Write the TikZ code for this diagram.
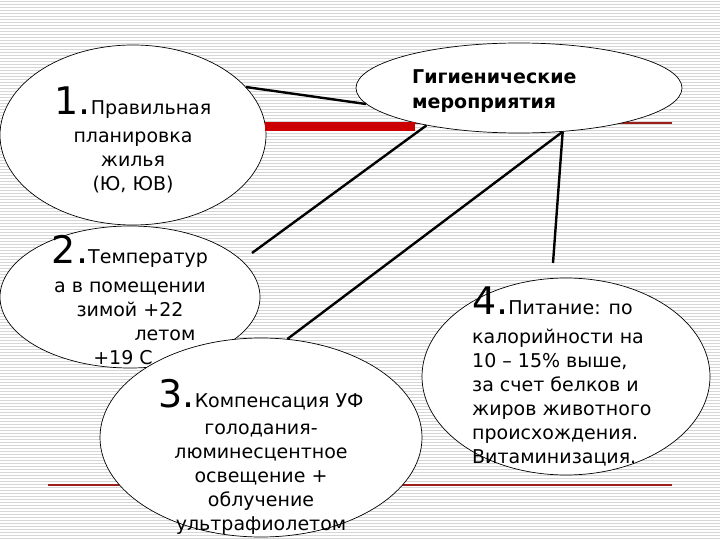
\documentclass[tikz,border=0pt]{standalone}
\usepackage{fontspec}
\setmainfont{DejaVu Sans}
\usetikzlibrary{shapes.geometric}
\definecolor{stripe}{RGB}{214,214,214}
\definecolor{barred}{RGB}{204,0,0}
\definecolor{rulered}{RGB}{160,30,25}
\begin{document}
\begin{tikzpicture}[x=1pt,y=-1pt,
  oval/.style={ellipse, draw=black, line width=0.7pt, fill=white, inner sep=0pt},
  link/.style={draw=black, line width=2.4pt},
  rulel/.style={draw=rulered, line width=1.3pt},
  txt/.style={inner sep=0pt, font=\fontsize{19}{24}\selectfont},
  big/.style={}]
\useasboundingbox (0,0) rectangle (720,540);
% background
\fill[white] (0,0) rectangle (720,540);
\foreach \i in {0,...,179} \draw[stripe, line width=1pt] (0,{\i*3+1.5}) -- (720,{\i*3+1.5});
% template rules
\coordinate (r1a) at (48,123);
\coordinate (r1b) at (672,123);
\coordinate (r2a) at (48,485);
\coordinate (r2b) at (672,485);
\draw[rulel] (r1a) -- (r1b);
\draw[rulel] (r2a) -- (r2b);
% ellipses
\node[oval, minimum width=266pt, minimum height=180pt] (e1) at (133,135) {};
\node[oval, minimum width=260pt, minimum height=142pt] (e2) at (130,297) {};
\node[oval, minimum width=322pt, minimum height=199pt] (e3) at (261,437.5) {};
\node[oval, minimum width=288pt, minimum height=197pt] (e4) at (566,376.5) {};
\node[oval, minimum width=326pt, minimum height=90pt] (top) at (519,88) {};
% red bar
\fill[barred] (265,122) rectangle (415,131);
% connectors
\coordinate (bstart) at (252,253);
\coordinate (dend) at (553,263);
\draw[link] (e1.23) -- (top.186);
\draw[link] (bstart) -- (top.202);
\draw[link] (e3.75) -- (top.315);
\draw[link] (top.315) -- (dend);
% texts
\node[txt, align=center, anchor=north] (t1) at (133,87)
  {{\fontsize{38}{38}\selectfont 1.}Правильная\\[4pt] планировка\\ жилья\\ (Ю, ЮВ)};
\node[txt, align=center, anchor=north] (t2) at (130,235)
  {{\fontsize{38}{38}\selectfont 2.}Температур\\[5pt] а в помещении\\ зимой +22\\ \hspace*{70pt}летом\\ +19 С\hspace*{14pt}\mbox{}};
\node[txt, align=center, anchor=north] (t3) at (261,379)
  {{\fontsize{38}{38}\selectfont 3.}Компенсация УФ\\[3pt] голодания-\\ люминесцентное\\ освещение +\\ облучение\\ ультрафиолетом};
\node[txt, align=left, anchor=north west] (t4) at (472,287)
  {{\fontsize{38}{38}\selectfont 4.}Питание: по\\[5pt] калорийности на\\ 10 – 15\% выше,\\ за счет белков и\\ жиров животного\\ происхождения.\\ Витаминизация.};
\node[txt, align=left, anchor=north west, font=\bfseries\fontsize{19}{25}\selectfont] (t0) at (412,69)
  {Гигиенические\\ мероприятия};
\end{tikzpicture}
\end{document}
